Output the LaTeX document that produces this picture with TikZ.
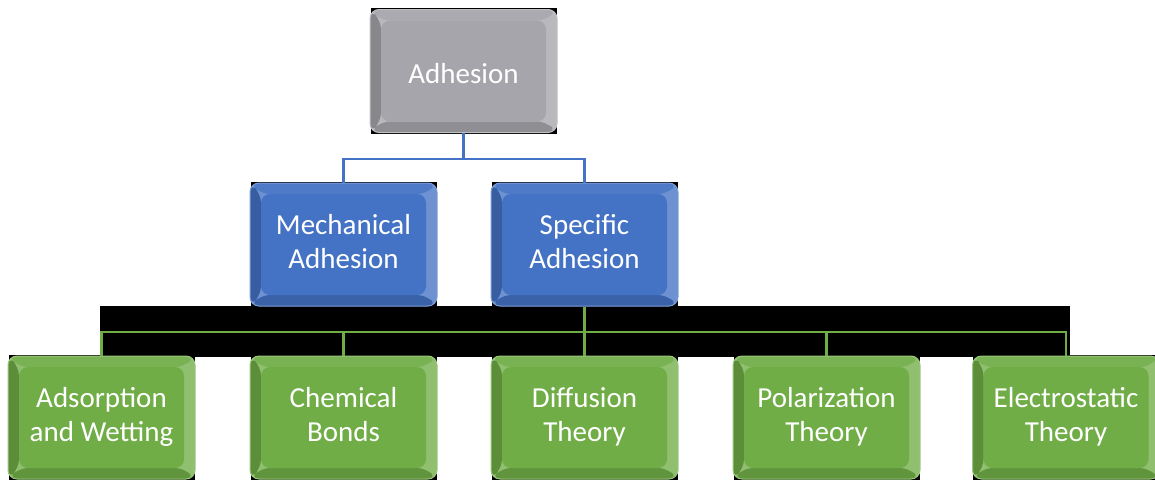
\documentclass[tikz,border=0pt]{standalone}
\usepackage{fontspec}
\setmainfont{Carlito}
\usetikzlibrary{positioning,calc,backgrounds}
\definecolor{adgray}{HTML}{A5A5AB}
\definecolor{adblue}{HTML}{4472C4}
\definecolor{adgreen}{HTML}{70AD47}
\tikzset{
bevel/.style={
  rectangle, rounded corners=9pt,
  minimum width=187pt, minimum height=123pt,
  inner sep=0pt, text=white, align=center,
  font=\fontsize{29}{34}\selectfont,
  execute at begin node=\rule{0pt}{32pt},
  execute at end node=\rule[-7pt]{0pt}{7pt},
  draw=#1!70!white, line width=1pt,
  path picture={
    \coordinate (nw) at (path picture bounding box.north west);
    \coordinate (ne) at (path picture bounding box.north east);
    \coordinate (sw) at (path picture bounding box.south west);
    \coordinate (se) at (path picture bounding box.south east);
    \fill[#1!78!white] (nw) rectangle (se);
    \fill[#1!94!white] (nw) -- ($(nw)+(11pt,-11pt)$) -- ($(ne)+(-11pt,-11pt)$) -- (ne) -- cycle;
    \fill[#1!82!black] (nw) -- ($(nw)+(11pt,-11pt)$) -- ($(sw)+(11pt,11pt)$) -- (sw) -- cycle;
    \fill[#1!86!black] (sw) -- ($(sw)+(11pt,11pt)$) -- ($(se)+(-11pt,11pt)$) -- (se) -- cycle;
    \fill[#1] ($(nw)+(11pt,-11pt)$) rectangle ($(se)+(-11pt,11pt)$);
  }
},
graybox/.style={bevel=adgray},
bluebox/.style={bevel=adblue},
greenbox/.style={bevel=adgreen},
blueline/.style={draw=adblue, line width=2.5pt},
greenline/.style={draw=adgreen, line width=2.8pt},
}

\begin{document}
\begin{tikzpicture}[x=1pt,y=-1pt]
  \useasboundingbox (0,0) rectangle (1155,479);
  \clip (0,0) rectangle (1155,479);

  % top level
  \node[graybox] (adh) at (463.5,71) {Adhesion};

  % second level
  \node[bluebox] (mech) at (343.5,244.5) {Mechanical\\Adhesion};
  \node[bluebox] (spec) at (584.5,244.5) {Specific\\Adhesion};

  % theories
  \node[greenbox] (ads)  at (101.5,417.5) {Adsorption\\and Wetting};
  \node[greenbox] (chem) at (343.5,417.5) {Chemical\\Bonds};
  \node[greenbox] (diff) at (584.5,417.5) {Diffusion\\Theory};
  \node[greenbox] (pol)  at (826.5,417.5) {Polarization\\Theory};
  \node[greenbox] (elec) at (1066,417.5) {Electrostatic\\Theory};

  \begin{scope}[on background layer]
    \fill[black] (100,306) rectangle (1070,357);
    \foreach \n in {adh,mech,spec,ads,chem,diff,pol,elec}
      \fill[black] ($(\n.north west)+(1pt,1pt)$) rectangle ($(\n.south east)+(-1pt,-1pt)$);
  \end{scope}

  \coordinate (bj) at (463.5,159);
  \draw[blueline] (adh.south) -- (bj);
  \draw[blueline] (mech.north) |- (bj) -| (spec.north);

  \coordinate (gj) at (584.5,332);
  \draw[greenline] (spec.south) -- (gj);
  \foreach \n in {ads,chem,diff,pol,elec}
    \draw[greenline] (\n.north) |- (gj);
\end{tikzpicture}
\end{document}
